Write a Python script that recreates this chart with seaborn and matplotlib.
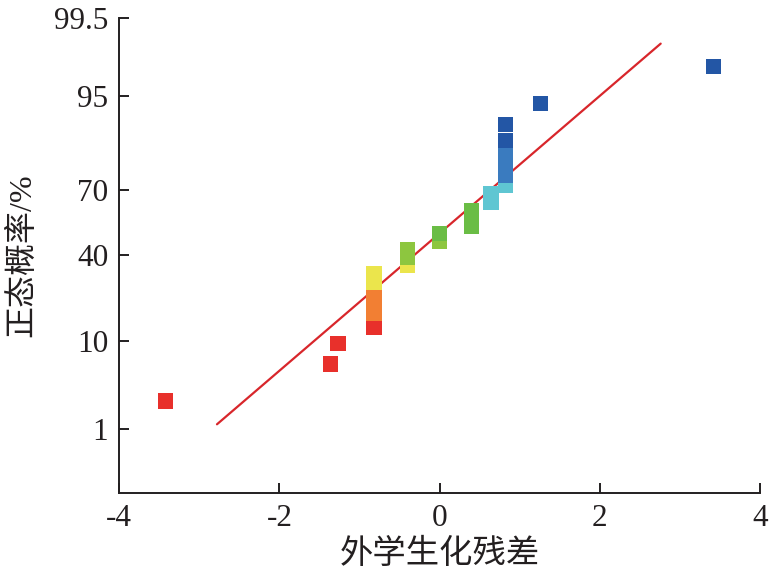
import numpy as np
import pandas as pd
import seaborn as sns
import matplotlib
matplotlib.use("Agg")
import matplotlib.pyplot as plt
from statistics import NormalDist

# Residuals (x) and normal probability in % (y), one entry per run, in rank order
residual = [-3.42, -1.36, -1.27, -0.82, -0.82, -0.82, -0.82, -0.82, -0.82,
            -0.40, -0.40, -0.40, 0.00, 0.00, 0.40, 0.40, 0.40, 0.64, 0.64,
            0.82, 0.82, 0.82, 0.82, 0.82, 0.82, 1.26, 3.42]
probability = [2.3, 6.0, 9.6, 13.3, 17.0, 20.6, 24.3, 28.0, 31.7,
               35.3, 39.0, 42.7, 46.3, 50.0, 53.7, 57.3, 61.0, 64.7, 68.3,
               72.0, 75.7, 79.4, 83.0, 86.7, 90.4, 94.0, 97.7]
group = (["red"] * 4 + ["orange"] * 3 + ["yellow"] * 3 + ["ygreen"] * 3
         + ["green"] * 4 + ["cyan"] * 3 + ["blue"] * 3 + ["navy"] * 4)

# Reference line end points
line_x = [-2.78, 2.76]
line_p = [1.15, 98.84]

x_ticks = [-4, -2, 0, 2, 4]
y_ticks = [1, 10, 40, 70, 95, 99.5]
y_tick_labels = ["1", "10", "40", "70", "95", "99.5"]

palette = {
    "red": "#e8302b", "orange": "#f27f33", "yellow": "#ebe54c",
    "ygreen": "#8dc63f", "green": "#6abd45", "cyan": "#5fc6d2",
    "blue": "#3a7bbf", "navy": "#2356a5",
}

df = pd.DataFrame({"residual": residual, "prob": probability, "group": group})

sns.set_theme(style="ticks")
plt.rcParams["font.family"] = ["Liberation Serif", "Noto Sans CJK SC", "DejaVu Sans"]
plt.rcParams["axes.unicode_minus"] = False

_nd = NormalDist()
_inv = np.vectorize(lambda v: _nd.inv_cdf(v / 100.0), otypes=[float])
_cdf = np.vectorize(lambda v: _nd.cdf(v) * 100.0, otypes=[float])


def to_z(p):
    p = np.clip(np.asarray(p, dtype=float), 1e-7, 100 - 1e-7)
    return _inv(p)


def from_z(z):
    return _cdf(np.asarray(z, dtype=float))


fig = plt.figure(figsize=(7.69, 5.74), dpi=100)
ax = fig.add_axes([0.1551, 0.1416, 0.8332, 0.8270])
ax.set_yscale("function", functions=(to_z, from_z))

ax.plot(line_x, line_p, color="#d8262b", linewidth=1.6, zorder=2)

sns.scatterplot(
    data=df, x="residual", y="prob", hue="group", palette=palette,
    marker="s", s=120, edgecolor="none", linewidth=0,
    legend=False, ax=ax, zorder=3
)

ax.set_xlim(-4, 4)
ax.set_ylim(0.1, 99.5)
ax.set_xticks(x_ticks)
ax.set_xticklabels([str(t) for t in x_ticks])
ax.set_yticks(y_ticks)
ax.set_yticklabels(y_tick_labels)
ax.minorticks_off()

ink = "#231f20"
for side in ["top", "right"]:
    ax.spines[side].set_visible(False)
for side in ["left", "bottom"]:
    ax.spines[side].set_linewidth(1.4)
    ax.spines[side].set_color(ink)

ax.tick_params(axis="both", direction="in", length=7, width=1.4,
               color=ink, labelcolor=ink, labelsize=22.5, pad=8)

ax.set_xlabel("外学生化残差", fontsize=24, color=ink, labelpad=2,
              fontweight="light", family=["Noto Sans CJK SC", "DejaVu Sans"])
ax.set_ylabel("正态概率/%", fontsize=23, color=ink, labelpad=12,
              fontweight="light")

fig.savefig("out.png", dpi=100)
